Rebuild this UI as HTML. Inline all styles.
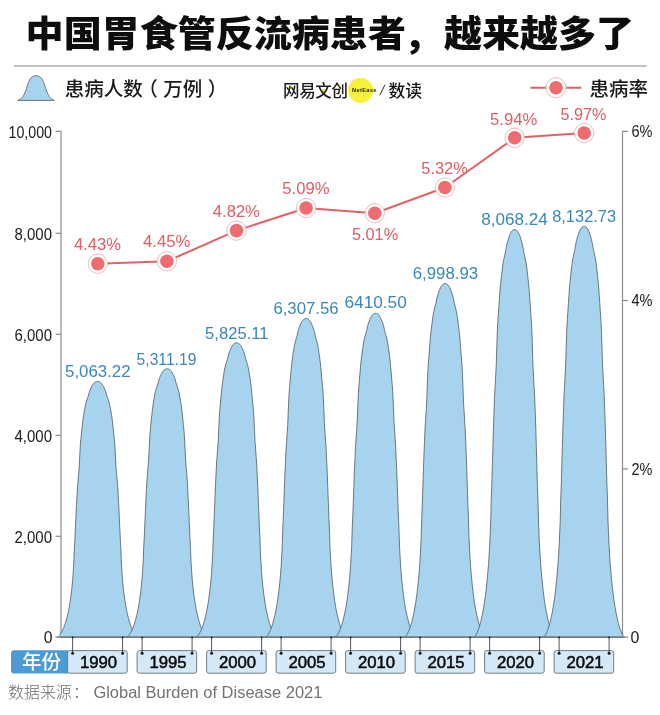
<!DOCTYPE html>
<html lang="zh-CN"><head><meta charset="utf-8"><title>中国胃食管反流病患者，越来越多了</title>
<style>
html,body{margin:0;padding:0;background:#fff;}
body{width:660px;height:715px;overflow:hidden;}
svg{display:block;}
text{font-family:"Liberation Sans","Noto Sans CJK SC",sans-serif;}
.cjk{font-family:"Noto Sans CJK SC","Liberation Sans",sans-serif;}
.red{fill:#df5d63;}
.blue{fill:#3a87b9;}
.ax{fill:#1a1a1a;}
</style></head><body>
<svg width="660" height="715" viewBox="0 0 660 715">
<defs><clipPath id="plot"><rect x="0" y="0" width="660" height="637.4"/></clipPath></defs>
<rect width="660" height="715" fill="#fff"/>

<text class="cjk" transform="translate(25.6,47.3) scale(1.048,1)" font-size="36.3" font-weight="900" fill="#0d0d0d">中国胃食管反流病患者<tspan dx="-2.4" dy="2">，</tspan><tspan dx="2.4" dy="-2">越来越多了</tspan></text>
<rect x="14" y="65.3" width="632.5" height="1.4" fill="#a9a9a9"/>
<path d="M17.8,100.4 L18.1,100.3 L18.4,100.1 L18.7,99.9 L19.0,99.8 L19.4,99.6 L19.7,99.4 L20.0,99.3 L20.3,99.1 L20.6,98.9 L20.9,98.6 L21.2,98.4 L21.5,98.1 L21.8,97.8 L22.1,97.5 L22.5,97.1 L22.8,96.7 L23.1,96.3 L23.4,95.8 L23.7,95.3 L24.0,94.7 L24.3,94.0 L24.6,93.3 L24.9,92.6 L25.2,91.8 L25.6,91.0 L25.9,90.1 L26.2,89.2 L26.5,88.3 L26.8,87.3 L27.1,86.4 L27.4,85.4 L27.7,84.5 L28.0,83.6 L28.3,82.7 L28.7,81.9 L29.0,81.2 L29.3,80.5 L29.6,79.8 L29.9,79.3 L30.2,78.8 L30.5,78.4 L30.8,78.0 L31.1,77.7 L31.4,77.4 L31.8,77.2 L32.1,76.9 L32.4,76.7 L32.7,76.6 L33.0,76.4 L33.3,76.3 L33.6,76.2 L33.9,76.0 L34.2,75.9 L34.5,75.9 L34.9,75.8 L35.2,75.8 L35.5,75.7 L35.8,75.7 L36.1,75.7 L36.4,75.7 L36.7,75.7 L37.0,75.8 L37.3,75.8 L37.7,75.9 L38.0,75.9 L38.3,76.0 L38.6,76.2 L38.9,76.3 L39.2,76.4 L39.5,76.6 L39.8,76.7 L40.1,76.9 L40.4,77.2 L40.8,77.4 L41.1,77.7 L41.4,78.0 L41.7,78.4 L42.0,78.8 L42.3,79.3 L42.6,79.8 L42.9,80.5 L43.2,81.2 L43.5,81.9 L43.9,82.7 L44.2,83.6 L44.5,84.5 L44.8,85.4 L45.1,86.4 L45.4,87.3 L45.7,88.3 L46.0,89.2 L46.3,90.1 L46.6,91.0 L47.0,91.8 L47.3,92.6 L47.6,93.3 L47.9,94.0 L48.2,94.7 L48.5,95.3 L48.8,95.8 L49.1,96.3 L49.4,96.7 L49.7,97.1 L50.1,97.5 L50.4,97.8 L50.7,98.1 L51.0,98.4 L51.3,98.6 L51.6,98.9 L51.9,99.1 L52.2,99.3 L52.5,99.4 L52.8,99.6 L53.2,99.8 L53.5,99.9 L53.8,100.1 L54.1,100.3 L54.4,100.4Z" fill="#a8d3ee" stroke="#4a5660" stroke-width="0.8" stroke-linejoin="round"/>
<text class="cjk" x="64.7" y="96" font-size="19.5" font-weight="500" fill="#1a1a1a">患病人数<tspan dx="-4.5">（</tspan><tspan dx="5.5">万例</tspan><tspan dx="5.5">）</tspan></text>
<circle cx="360.6" cy="90.3" r="12.5" fill="#f6f13a"/>
<g fill="#e9df3a"><ellipse cx="289.3" cy="88.3" rx="1.2" ry="2"/><ellipse cx="293.6" cy="88.3" rx="1.2" ry="2"/><circle cx="323.8" cy="91.2" r="2.1"/><circle cx="337.6" cy="84.3" r="1.4"/></g>
<text class="cjk" x="283" y="97" font-size="16.5" font-weight="500" fill="#1c1c1c" textLength="65" lengthAdjust="spacing">网易文创</text>
<text x="352" y="92.4" font-size="5.7" font-weight="700" fill="#222" textLength="24.4" lengthAdjust="spacing">NetEase</text>
<text transform="translate(379.2,95.2) skewX(-13)" font-size="14.2" fill="#4a4a4a">/</text>
<text class="cjk" x="388.5" y="97" font-size="16.8" font-weight="500" fill="#151515" textLength="33.5" lengthAdjust="spacing">数读</text>
<line x1="530.4" y1="87.7" x2="581.3" y2="87.7" stroke="#e16166" stroke-width="1.9"/>
<circle cx="556" cy="87.6" r="10" fill="#fff" stroke="#efa9aa" stroke-width="0.8"/><circle cx="556" cy="87.7" r="6.8" fill="#ee6c6f"/>
<text class="cjk" x="589.5" y="96" font-size="19.5" font-weight="500" fill="#1a1a1a" textLength="58.5" lengthAdjust="spacing">患病率</text>
<g stroke="#8c8c8c" stroke-width="1.2" fill="none">
<path d="M55.5,131.3 H61 V637.2"/>
<path d="M55.5,233.3 H61"/>
<path d="M55.5,334.3 H61"/>
<path d="M55.5,435.3 H61"/>
<path d="M55.5,536.3 H61"/>
<path d="M628,131.3 H622.5 V637.2"/>
<path d="M622.5,300.5 H628"/>
<path d="M622.5,468.9 H628"/>
</g>
<g clip-path="url(#plot)" fill="#a8d3ee" stroke="#44525c" stroke-width="0.75" stroke-linejoin="round">
<path d="M56.6,637.5 L57.2,637.2 L57.7,636.9 L58.3,636.5 L58.8,636.0 L59.4,635.4 L59.9,634.7 L60.5,634.0 L61.0,633.1 L61.6,632.2 L62.1,631.2 L62.7,630.1 L63.2,628.9 L63.8,627.5 L64.3,626.0 L64.9,624.4 L65.4,622.8 L66.0,621.0 L66.5,619.0 L67.1,617.0 L67.6,614.7 L68.2,612.3 L68.7,609.6 L69.3,606.6 L69.8,603.4 L70.4,599.9 L70.9,596.0 L71.5,591.7 L72.0,586.7 L72.6,580.7 L73.1,573.7 L73.7,565.0 L74.2,551.8 L74.8,541.4 L75.3,530.0 L75.9,517.6 L76.4,506.2 L77.0,495.6 L77.5,486.7 L78.1,480.0 L78.6,473.9 L79.2,467.1 L79.7,456.9 L80.3,445.5 L80.8,439.5 L81.4,434.3 L81.9,429.3 L82.5,424.0 L83.0,419.3 L83.6,415.4 L84.2,411.9 L84.8,408.6 L85.3,405.5 L85.9,403.0 L86.5,400.9 L87.1,399.1 L87.7,397.5 L88.3,395.8 L88.8,394.0 L89.4,391.9 L90.0,390.2 L90.6,388.8 L91.2,387.5 L91.8,386.4 L92.3,385.3 L92.9,384.4 L93.5,383.6 L94.1,382.9 L94.7,382.4 L95.3,382.0 L95.8,381.7 L96.4,381.5 L97.0,381.4 L97.6,381.3 L98.2,381.4 L98.8,381.5 L99.3,381.7 L99.9,382.0 L100.5,382.4 L101.1,382.9 L101.7,383.6 L102.3,384.4 L102.8,385.3 L103.4,386.4 L104.0,387.5 L104.6,388.8 L105.2,390.2 L105.8,391.9 L106.3,394.0 L106.9,395.8 L107.5,397.5 L108.1,399.1 L108.7,400.9 L109.3,403.0 L109.8,405.5 L110.4,408.6 L111.0,411.9 L111.6,415.4 L112.2,419.3 L112.7,424.0 L113.3,429.3 L113.8,434.3 L114.4,439.5 L114.9,445.5 L115.5,456.9 L116.0,467.1 L116.6,473.9 L117.1,480.0 L117.7,486.7 L118.2,495.6 L118.8,506.2 L119.3,517.6 L119.9,530.0 L120.4,541.4 L121.0,551.8 L121.5,565.0 L122.1,573.7 L122.6,580.7 L123.2,586.7 L123.7,591.7 L124.3,596.0 L124.8,599.9 L125.4,603.4 L125.9,606.6 L126.5,609.6 L127.0,612.3 L127.6,614.7 L128.1,617.0 L128.7,619.0 L129.2,621.0 L129.8,622.8 L130.3,624.4 L130.9,626.0 L131.4,627.5 L132.0,628.9 L132.5,630.1 L133.1,631.2 L133.6,632.2 L134.2,633.1 L134.7,634.0 L135.3,634.7 L135.8,635.4 L136.4,636.0 L136.9,636.5 L137.5,636.9 L138.0,637.2 L138.6,637.5Z"/>
<path d="M126.1,637.5 L126.7,637.2 L127.2,636.9 L127.8,636.4 L128.3,635.9 L128.9,635.3 L129.4,634.6 L130.0,633.8 L130.5,632.9 L131.1,631.9 L131.6,630.9 L132.2,629.7 L132.7,628.4 L133.3,627.0 L133.8,625.4 L134.4,623.8 L134.9,622.0 L135.5,620.2 L136.0,618.1 L136.6,616.0 L137.1,613.6 L137.7,611.1 L138.2,608.3 L138.8,605.1 L139.3,601.7 L139.9,598.0 L140.4,594.0 L141.0,589.5 L141.5,584.3 L142.1,577.9 L142.6,570.6 L143.2,561.4 L143.7,547.7 L144.3,536.7 L144.8,524.8 L145.4,511.7 L145.9,499.8 L146.5,488.7 L147.0,479.4 L147.6,472.3 L148.1,466.0 L148.7,458.8 L149.2,448.1 L149.8,436.1 L150.3,429.8 L150.9,424.4 L151.4,419.1 L152.0,413.5 L152.5,408.6 L153.1,404.6 L153.7,400.9 L154.3,397.4 L154.8,394.2 L155.4,391.5 L156.0,389.3 L156.6,387.5 L157.2,385.8 L157.8,384.0 L158.3,382.1 L158.9,379.9 L159.5,378.1 L160.1,376.6 L160.7,375.3 L161.3,374.1 L161.8,373.0 L162.4,372.0 L163.0,371.2 L163.6,370.5 L164.2,369.9 L164.8,369.5 L165.3,369.2 L165.9,369.0 L166.5,368.8 L167.1,368.8 L167.7,368.8 L168.3,369.0 L168.8,369.2 L169.4,369.5 L170.0,369.9 L170.6,370.5 L171.2,371.2 L171.8,372.0 L172.3,373.0 L172.9,374.1 L173.5,375.3 L174.1,376.6 L174.7,378.1 L175.3,379.9 L175.8,382.1 L176.4,384.0 L177.0,385.8 L177.6,387.5 L178.2,389.3 L178.8,391.5 L179.3,394.2 L179.9,397.4 L180.5,400.9 L181.1,404.6 L181.7,408.6 L182.2,413.5 L182.8,419.1 L183.3,424.4 L183.9,429.8 L184.4,436.1 L185.0,448.1 L185.5,458.8 L186.1,466.0 L186.6,472.3 L187.2,479.4 L187.7,488.7 L188.3,499.8 L188.8,511.7 L189.4,524.8 L189.9,536.7 L190.5,547.7 L191.0,561.4 L191.6,570.6 L192.1,577.9 L192.7,584.3 L193.2,589.5 L193.8,594.0 L194.3,598.0 L194.9,601.7 L195.4,605.1 L196.0,608.3 L196.5,611.1 L197.1,613.6 L197.6,616.0 L198.2,618.1 L198.7,620.2 L199.3,622.0 L199.8,623.8 L200.4,625.4 L200.9,627.0 L201.5,628.4 L202.0,629.7 L202.6,630.9 L203.1,631.9 L203.7,632.9 L204.2,633.8 L204.8,634.6 L205.3,635.3 L205.9,635.9 L206.4,636.4 L207.0,636.9 L207.5,637.2 L208.1,637.5Z"/>
<path d="M195.6,637.5 L196.2,637.2 L196.7,636.8 L197.3,636.3 L197.8,635.8 L198.4,635.1 L198.9,634.3 L199.5,633.4 L200.0,632.4 L200.6,631.4 L201.1,630.2 L201.7,629.0 L202.2,627.6 L202.8,626.0 L203.3,624.3 L203.9,622.5 L204.4,620.6 L205.0,618.5 L205.5,616.3 L206.1,613.9 L206.6,611.3 L207.2,608.6 L207.7,605.5 L208.3,602.0 L208.8,598.3 L209.4,594.2 L209.9,589.8 L210.5,584.9 L211.0,579.1 L211.6,572.2 L212.1,564.1 L212.7,554.1 L213.2,539.0 L213.8,527.0 L214.3,513.9 L214.9,499.6 L215.4,486.5 L216.0,474.3 L216.5,464.1 L217.1,456.3 L217.6,449.4 L218.2,441.5 L218.7,429.8 L219.3,416.6 L219.8,409.7 L220.4,403.8 L220.9,398.0 L221.5,391.9 L222.0,386.5 L222.6,382.1 L223.2,378.0 L223.8,374.2 L224.3,370.7 L224.9,367.7 L225.5,365.4 L226.1,363.3 L226.7,361.5 L227.3,359.5 L227.8,357.4 L228.4,355.0 L229.0,353.1 L229.6,351.4 L230.2,350.0 L230.8,348.7 L231.3,347.4 L231.9,346.4 L232.5,345.5 L233.1,344.7 L233.7,344.1 L234.3,343.6 L234.8,343.2 L235.4,343.0 L236.0,342.9 L236.6,342.8 L237.2,342.9 L237.8,343.0 L238.3,343.2 L238.9,343.6 L239.5,344.1 L240.1,344.7 L240.7,345.5 L241.3,346.4 L241.8,347.4 L242.4,348.7 L243.0,350.0 L243.6,351.4 L244.2,353.1 L244.8,355.0 L245.3,357.4 L245.9,359.5 L246.5,361.5 L247.1,363.3 L247.7,365.4 L248.3,367.7 L248.8,370.7 L249.4,374.2 L250.0,378.0 L250.6,382.1 L251.2,386.5 L251.7,391.9 L252.3,398.0 L252.8,403.8 L253.4,409.7 L253.9,416.6 L254.5,429.8 L255.0,441.5 L255.6,449.4 L256.1,456.3 L256.7,464.1 L257.2,474.3 L257.8,486.5 L258.3,499.6 L258.9,513.9 L259.4,527.0 L260.0,539.0 L260.5,554.1 L261.1,564.1 L261.6,572.2 L262.2,579.1 L262.7,584.9 L263.3,589.8 L263.8,594.2 L264.4,598.3 L264.9,602.0 L265.5,605.5 L266.0,608.6 L266.6,611.3 L267.1,613.9 L267.7,616.3 L268.2,618.5 L268.8,620.6 L269.3,622.5 L269.9,624.3 L270.4,626.0 L271.0,627.6 L271.5,629.0 L272.1,630.2 L272.6,631.4 L273.2,632.4 L273.7,633.4 L274.3,634.3 L274.8,635.1 L275.4,635.8 L275.9,636.3 L276.5,636.8 L277.0,637.2 L277.6,637.5Z"/>
<path d="M265.1,637.5 L265.7,637.2 L266.2,636.8 L266.8,636.2 L267.3,635.7 L267.9,634.9 L268.4,634.1 L269.0,633.1 L269.5,632.0 L270.1,630.9 L270.6,629.6 L271.2,628.3 L271.7,626.7 L272.3,625.0 L272.8,623.2 L273.4,621.2 L273.9,619.1 L274.5,616.9 L275.0,614.5 L275.6,611.9 L276.1,609.2 L276.7,606.2 L277.2,602.8 L277.8,599.1 L278.3,595.0 L278.9,590.6 L279.4,585.9 L280.0,580.5 L280.5,574.3 L281.1,566.8 L281.6,558.0 L282.2,547.2 L282.7,530.8 L283.3,517.9 L283.8,503.7 L284.4,488.2 L284.9,474.0 L285.5,460.8 L286.0,449.8 L286.6,441.3 L287.1,433.8 L287.7,425.3 L288.2,412.7 L288.8,398.4 L289.3,390.9 L289.9,384.4 L290.4,378.2 L291.0,371.6 L291.5,365.7 L292.1,361.0 L292.7,356.6 L293.3,352.4 L293.9,348.6 L294.4,345.4 L295.0,342.9 L295.6,340.7 L296.2,338.6 L296.8,336.6 L297.4,334.2 L297.9,331.7 L298.5,329.6 L299.1,327.8 L299.7,326.2 L300.3,324.8 L300.9,323.5 L301.4,322.3 L302.0,321.4 L302.6,320.5 L303.2,319.8 L303.8,319.3 L304.4,318.9 L304.9,318.7 L305.5,318.5 L306.1,318.5 L306.7,318.5 L307.3,318.7 L307.9,318.9 L308.4,319.3 L309.0,319.8 L309.6,320.5 L310.2,321.4 L310.8,322.3 L311.4,323.5 L311.9,324.8 L312.5,326.2 L313.1,327.8 L313.7,329.6 L314.3,331.7 L314.9,334.2 L315.4,336.6 L316.0,338.6 L316.6,340.7 L317.2,342.9 L317.8,345.4 L318.4,348.6 L318.9,352.4 L319.5,356.6 L320.1,361.0 L320.7,365.7 L321.2,371.6 L321.8,378.2 L322.3,384.4 L322.9,390.9 L323.4,398.4 L324.0,412.7 L324.5,425.3 L325.1,433.8 L325.6,441.3 L326.2,449.8 L326.7,460.8 L327.3,474.0 L327.8,488.2 L328.4,503.7 L328.9,517.9 L329.5,530.8 L330.0,547.2 L330.6,558.0 L331.1,566.8 L331.7,574.3 L332.2,580.5 L332.8,585.9 L333.3,590.6 L333.9,595.0 L334.4,599.1 L335.0,602.8 L335.5,606.2 L336.1,609.2 L336.6,611.9 L337.2,614.5 L337.7,616.9 L338.3,619.1 L338.8,621.2 L339.4,623.2 L339.9,625.0 L340.5,626.7 L341.0,628.3 L341.6,629.6 L342.1,630.9 L342.7,632.0 L343.2,633.1 L343.8,634.1 L344.3,634.9 L344.9,635.7 L345.4,636.2 L346.0,636.8 L346.5,637.2 L347.1,637.5Z"/>
<path d="M334.6,637.5 L335.2,637.2 L335.7,636.7 L336.3,636.2 L336.8,635.6 L337.4,634.9 L337.9,634.0 L338.5,633.0 L339.0,631.9 L339.6,630.7 L340.1,629.5 L340.7,628.1 L341.2,626.6 L341.8,624.8 L342.3,623.0 L342.9,621.0 L343.4,618.9 L344.0,616.6 L344.5,614.1 L345.1,611.5 L345.6,608.7 L346.2,605.7 L346.7,602.3 L347.3,598.5 L347.8,594.3 L348.4,589.9 L348.9,585.0 L349.5,579.6 L350.0,573.3 L350.6,565.6 L351.1,556.7 L351.7,545.7 L352.2,529.1 L352.8,515.9 L353.3,501.5 L353.9,485.7 L354.4,471.4 L355.0,458.0 L355.5,446.7 L356.1,438.1 L356.6,430.5 L357.2,421.8 L357.7,409.0 L358.3,394.5 L358.8,386.9 L359.4,380.3 L359.9,374.0 L360.5,367.3 L361.0,361.3 L361.6,356.5 L362.2,352.0 L362.8,347.8 L363.4,343.9 L363.9,340.7 L364.5,338.1 L365.1,335.8 L365.7,333.8 L366.3,331.7 L366.9,329.3 L367.4,326.7 L368.0,324.6 L368.6,322.7 L369.2,321.1 L369.8,319.7 L370.4,318.3 L370.9,317.2 L371.5,316.2 L372.1,315.3 L372.7,314.6 L373.3,314.1 L373.9,313.7 L374.4,313.5 L375.0,313.3 L375.6,313.3 L376.2,313.3 L376.8,313.5 L377.4,313.7 L377.9,314.1 L378.5,314.6 L379.1,315.3 L379.7,316.2 L380.3,317.2 L380.9,318.3 L381.4,319.7 L382.0,321.1 L382.6,322.7 L383.2,324.6 L383.8,326.7 L384.4,329.3 L384.9,331.7 L385.5,333.8 L386.1,335.8 L386.7,338.1 L387.3,340.7 L387.9,343.9 L388.4,347.8 L389.0,352.0 L389.6,356.5 L390.2,361.3 L390.7,367.3 L391.3,374.0 L391.8,380.3 L392.4,386.9 L392.9,394.5 L393.5,409.0 L394.0,421.8 L394.6,430.5 L395.1,438.1 L395.7,446.7 L396.2,458.0 L396.8,471.4 L397.3,485.7 L397.9,501.5 L398.4,515.9 L399.0,529.1 L399.5,545.7 L400.1,556.7 L400.6,565.6 L401.2,573.3 L401.7,579.6 L402.3,585.0 L402.8,589.9 L403.4,594.3 L403.9,598.5 L404.5,602.3 L405.0,605.7 L405.6,608.7 L406.1,611.5 L406.7,614.1 L407.2,616.6 L407.8,618.9 L408.3,621.0 L408.9,623.0 L409.4,624.8 L410.0,626.6 L410.5,628.1 L411.1,629.5 L411.6,630.7 L412.2,631.9 L412.7,633.0 L413.3,634.0 L413.8,634.9 L414.4,635.6 L414.9,636.2 L415.5,636.7 L416.0,637.2 L416.6,637.5Z"/>
<path d="M404.1,637.5 L404.7,637.2 L405.2,636.7 L405.8,636.1 L406.3,635.4 L406.9,634.6 L407.4,633.7 L408.0,632.6 L408.5,631.4 L409.1,630.1 L409.6,628.8 L410.2,627.3 L410.7,625.6 L411.3,623.7 L411.8,621.6 L412.4,619.5 L412.9,617.1 L413.5,614.7 L414.0,612.0 L414.6,609.1 L415.1,606.1 L415.7,602.7 L416.2,599.0 L416.8,594.9 L417.3,590.4 L417.9,585.5 L418.4,580.2 L419.0,574.3 L419.5,567.4 L420.1,559.0 L420.6,549.3 L421.2,537.3 L421.7,519.2 L422.3,504.8 L422.8,489.0 L423.4,471.8 L423.9,456.2 L424.5,441.5 L425.0,429.2 L425.6,419.9 L426.1,411.5 L426.7,402.1 L427.2,388.0 L427.8,372.2 L428.3,363.9 L428.9,356.7 L429.4,349.8 L430.0,342.5 L430.5,336.0 L431.1,330.7 L431.7,325.8 L432.3,321.2 L432.9,317.0 L433.4,313.5 L434.0,310.6 L434.6,308.2 L435.2,305.9 L435.8,303.6 L436.4,301.0 L436.9,298.2 L437.5,295.9 L438.1,293.9 L438.7,292.1 L439.3,290.5 L439.9,289.1 L440.4,287.8 L441.0,286.8 L441.6,285.8 L442.2,285.1 L442.8,284.5 L443.4,284.0 L443.9,283.8 L444.5,283.6 L445.1,283.6 L445.7,283.6 L446.3,283.8 L446.9,284.0 L447.4,284.5 L448.0,285.1 L448.6,285.8 L449.2,286.8 L449.8,287.8 L450.4,289.1 L450.9,290.5 L451.5,292.1 L452.1,293.9 L452.7,295.9 L453.3,298.2 L453.9,301.0 L454.4,303.6 L455.0,305.9 L455.6,308.2 L456.2,310.6 L456.8,313.5 L457.4,317.0 L457.9,321.2 L458.5,325.8 L459.1,330.7 L459.7,336.0 L460.2,342.5 L460.8,349.8 L461.3,356.7 L461.9,363.9 L462.4,372.2 L463.0,388.0 L463.5,402.1 L464.1,411.5 L464.6,419.9 L465.2,429.2 L465.7,441.5 L466.3,456.2 L466.8,471.8 L467.4,489.0 L467.9,504.8 L468.5,519.2 L469.0,537.3 L469.6,549.3 L470.1,559.0 L470.7,567.4 L471.2,574.3 L471.8,580.2 L472.3,585.5 L472.9,590.4 L473.4,594.9 L474.0,599.0 L474.5,602.7 L475.1,606.1 L475.6,609.1 L476.2,612.0 L476.7,614.7 L477.3,617.1 L477.8,619.5 L478.4,621.6 L478.9,623.7 L479.5,625.6 L480.0,627.3 L480.6,628.8 L481.1,630.1 L481.7,631.4 L482.2,632.6 L482.8,633.7 L483.3,634.6 L483.9,635.4 L484.4,636.1 L485.0,636.7 L485.5,637.2 L486.1,637.5Z"/>
<path d="M473.6,637.5 L474.2,637.1 L474.7,636.6 L475.3,635.9 L475.8,635.1 L476.4,634.2 L476.9,633.1 L477.5,631.9 L478.0,630.5 L478.6,629.0 L479.1,627.4 L479.7,625.7 L480.2,623.7 L480.8,621.6 L481.3,619.2 L481.9,616.7 L482.4,614.0 L483.0,611.2 L483.5,608.1 L484.1,604.8 L484.6,601.3 L485.2,597.4 L485.7,593.1 L486.3,588.4 L486.8,583.2 L487.4,577.6 L487.9,571.5 L488.5,564.6 L489.0,556.7 L489.6,547.1 L490.1,535.9 L490.7,522.0 L491.2,501.1 L491.8,484.5 L492.3,466.4 L492.9,446.5 L493.4,428.5 L494.0,411.6 L494.5,397.4 L495.1,386.7 L495.6,377.1 L496.2,366.2 L496.7,350.0 L497.3,331.7 L497.8,322.2 L498.4,313.9 L498.9,305.9 L499.5,297.5 L500.0,290.0 L500.6,283.9 L501.2,278.3 L501.8,273.0 L502.4,268.1 L502.9,264.0 L503.5,260.8 L504.1,258.0 L504.7,255.3 L505.3,252.7 L505.9,249.7 L506.4,246.5 L507.0,243.8 L507.6,241.5 L508.2,239.5 L508.8,237.6 L509.4,235.9 L509.9,234.5 L510.5,233.3 L511.1,232.2 L511.7,231.3 L512.3,230.6 L512.9,230.1 L513.4,229.8 L514.0,229.6 L514.6,229.6 L515.2,229.6 L515.8,229.8 L516.4,230.1 L516.9,230.6 L517.5,231.3 L518.1,232.2 L518.7,233.3 L519.3,234.5 L519.9,235.9 L520.4,237.6 L521.0,239.5 L521.6,241.5 L522.2,243.8 L522.8,246.5 L523.4,249.7 L523.9,252.7 L524.5,255.3 L525.1,258.0 L525.7,260.8 L526.3,264.0 L526.9,268.1 L527.4,273.0 L528.0,278.3 L528.6,283.9 L529.2,290.0 L529.7,297.5 L530.3,305.9 L530.8,313.9 L531.4,322.2 L531.9,331.7 L532.5,350.0 L533.0,366.2 L533.6,377.1 L534.1,386.7 L534.7,397.4 L535.2,411.6 L535.8,428.5 L536.3,446.5 L536.9,466.4 L537.4,484.5 L538.0,501.1 L538.5,522.0 L539.1,535.9 L539.6,547.1 L540.2,556.7 L540.7,564.6 L541.3,571.5 L541.8,577.6 L542.4,583.2 L542.9,588.4 L543.5,593.1 L544.0,597.4 L544.6,601.3 L545.1,604.8 L545.7,608.1 L546.2,611.2 L546.8,614.0 L547.3,616.7 L547.9,619.2 L548.4,621.6 L549.0,623.7 L549.5,625.7 L550.1,627.4 L550.6,629.0 L551.2,630.5 L551.7,631.9 L552.3,633.1 L552.8,634.2 L553.4,635.1 L553.9,635.9 L554.5,636.6 L555.0,637.1 L555.6,637.5Z"/>
<path d="M543.1,637.5 L543.7,637.1 L544.2,636.5 L544.8,635.9 L545.3,635.1 L545.9,634.2 L546.4,633.1 L547.0,631.8 L547.5,630.4 L548.1,628.9 L548.6,627.4 L549.2,625.6 L549.7,623.6 L550.3,621.4 L550.8,619.1 L551.4,616.5 L551.9,613.8 L552.5,611.0 L553.0,607.9 L553.6,604.5 L554.1,601.0 L554.7,597.1 L555.2,592.8 L555.8,588.0 L556.3,582.7 L556.9,577.1 L557.4,571.0 L558.0,564.0 L558.5,556.0 L559.1,546.3 L559.6,535.1 L560.2,521.1 L560.7,500.0 L561.3,483.3 L561.8,465.0 L562.4,445.0 L562.9,426.8 L563.5,409.8 L564.0,395.5 L564.6,384.7 L565.1,375.0 L565.7,364.0 L566.2,347.7 L566.8,329.3 L567.3,319.7 L567.9,311.3 L568.4,303.3 L569.0,294.8 L569.5,287.2 L570.1,281.1 L570.7,275.4 L571.3,270.1 L571.9,265.2 L572.4,261.1 L573.0,257.8 L573.6,254.9 L574.2,252.3 L574.8,249.6 L575.4,246.6 L575.9,243.3 L576.5,240.6 L577.1,238.3 L577.7,236.3 L578.3,234.4 L578.9,232.7 L579.4,231.3 L580.0,230.0 L580.6,228.9 L581.2,228.0 L581.8,227.4 L582.4,226.9 L582.9,226.6 L583.5,226.4 L584.1,226.3 L584.7,226.4 L585.3,226.6 L585.9,226.9 L586.4,227.4 L587.0,228.0 L587.6,228.9 L588.2,230.0 L588.8,231.3 L589.4,232.7 L589.9,234.4 L590.5,236.3 L591.1,238.3 L591.7,240.6 L592.3,243.3 L592.9,246.6 L593.4,249.6 L594.0,252.3 L594.6,254.9 L595.2,257.8 L595.8,261.1 L596.4,265.2 L596.9,270.1 L597.5,275.4 L598.1,281.1 L598.7,287.2 L599.2,294.8 L599.8,303.3 L600.3,311.3 L600.9,319.7 L601.4,329.3 L602.0,347.7 L602.5,364.0 L603.1,375.0 L603.6,384.7 L604.2,395.5 L604.7,409.8 L605.3,426.8 L605.8,445.0 L606.4,465.0 L606.9,483.3 L607.5,500.0 L608.0,521.1 L608.6,535.1 L609.1,546.3 L609.7,556.0 L610.2,564.0 L610.8,571.0 L611.3,577.1 L611.9,582.7 L612.4,588.0 L613.0,592.8 L613.5,597.1 L614.1,601.0 L614.6,604.5 L615.2,607.9 L615.7,611.0 L616.3,613.8 L616.8,616.5 L617.4,619.1 L617.9,621.4 L618.5,623.6 L619.0,625.6 L619.6,627.4 L620.1,628.9 L620.7,630.4 L621.2,631.8 L621.8,633.1 L622.3,634.2 L622.9,635.1 L623.4,635.9 L624.0,636.5 L624.5,637.1 L625.1,637.5Z"/>
</g>
<path d="M55.5,637.2 H628.2" stroke="#8c8c8c" stroke-width="1.2"/><path d="M60,637.2 H623" stroke="#6a7177" stroke-width="1.2"/>
<text class="ax" x="52" y="137.8" font-size="15.6" text-anchor="end" textLength="43.5" lengthAdjust="spacingAndGlyphs">10,000</text>
<text class="ax" x="52" y="239.5" font-size="15.6" text-anchor="end" textLength="37.5" lengthAdjust="spacingAndGlyphs">8,000</text>
<text class="ax" x="52" y="340.5" font-size="15.6" text-anchor="end" textLength="37.5" lengthAdjust="spacingAndGlyphs">6,000</text>
<text class="ax" x="52" y="441.5" font-size="15.6" text-anchor="end" textLength="37.5" lengthAdjust="spacingAndGlyphs">4,000</text>
<text class="ax" x="52" y="542.5" font-size="15.6" text-anchor="end" textLength="37.5" lengthAdjust="spacingAndGlyphs">2,000</text>
<text class="ax" x="52.6" y="643" font-size="15.8" text-anchor="end">0</text>
<text class="ax" x="631.5" y="137.3" font-size="16.5" textLength="21" lengthAdjust="spacingAndGlyphs">6%</text>
<text class="ax" x="631.5" y="306.2" font-size="16.5" textLength="21" lengthAdjust="spacingAndGlyphs">4%</text>
<text class="ax" x="631.5" y="474.6" font-size="16.5" textLength="21" lengthAdjust="spacingAndGlyphs">2%</text>
<text class="ax" x="630.4" y="642.6" font-size="15.8">0</text>
<text class="blue" x="65.1" y="377.2" font-size="16.3" textLength="65.5" lengthAdjust="spacingAndGlyphs">5,063.22</text>
<text class="blue" x="136.6" y="364.5" font-size="16.3" textLength="59.8" lengthAdjust="spacingAndGlyphs">5,311.19</text>
<text class="blue" x="205.1" y="338.6" font-size="16.3" textLength="63.4" lengthAdjust="spacingAndGlyphs">5,825.11</text>
<text class="blue" x="273.4" y="314.2" font-size="16.3" textLength="65.1" lengthAdjust="spacingAndGlyphs">6,307.56</text>
<text class="blue" x="344.5" y="308.4" font-size="16.3" textLength="62.3" lengthAdjust="spacingAndGlyphs">6410.50</text>
<text class="blue" x="412.8" y="279.2" font-size="16.3" textLength="65.3" lengthAdjust="spacingAndGlyphs">6,998.93</text>
<text class="blue" x="481.3" y="224.7" font-size="16.3" textLength="66.6" lengthAdjust="spacingAndGlyphs">8,068.24</text>
<text class="blue" x="552.2" y="222.0" font-size="16.3" textLength="63.9" lengthAdjust="spacingAndGlyphs">8,132.73</text>
<polyline points="97.8,263.7 166.9,261.3 236.5,230.6 306.1,208.0 374.8,213.2 444.9,187.5 514.7,137.8 584.2,133.0" fill="none" stroke="#e16166" stroke-width="2.05" stroke-linejoin="round"/>
<circle cx="97.8" cy="263.7" r="9.7" fill="#fff" stroke="#efa9aa" stroke-width="0.8"/><circle cx="97.8" cy="263.7" r="6.8" fill="#ee6c6f"/>
<circle cx="166.9" cy="261.3" r="9.7" fill="#fff" stroke="#efa9aa" stroke-width="0.8"/><circle cx="166.9" cy="261.3" r="6.8" fill="#ee6c6f"/>
<circle cx="236.5" cy="230.6" r="9.7" fill="#fff" stroke="#efa9aa" stroke-width="0.8"/><circle cx="236.5" cy="230.6" r="6.8" fill="#ee6c6f"/>
<circle cx="306.1" cy="208.0" r="9.7" fill="#fff" stroke="#efa9aa" stroke-width="0.8"/><circle cx="306.1" cy="208.0" r="6.8" fill="#ee6c6f"/>
<circle cx="374.8" cy="213.2" r="9.7" fill="#fff" stroke="#efa9aa" stroke-width="0.8"/><circle cx="374.8" cy="213.2" r="6.8" fill="#ee6c6f"/>
<circle cx="444.9" cy="187.5" r="9.7" fill="#fff" stroke="#efa9aa" stroke-width="0.8"/><circle cx="444.9" cy="187.5" r="6.8" fill="#ee6c6f"/>
<circle cx="514.7" cy="137.8" r="9.7" fill="#fff" stroke="#efa9aa" stroke-width="0.8"/><circle cx="514.7" cy="137.8" r="6.8" fill="#ee6c6f"/>
<circle cx="584.2" cy="133.0" r="9.7" fill="#fff" stroke="#efa9aa" stroke-width="0.8"/><circle cx="584.2" cy="133.0" r="6.8" fill="#ee6c6f"/>
<text class="red" x="74.0" y="250.3" font-size="16.9" textLength="47.0" lengthAdjust="spacingAndGlyphs">4.43%</text>
<text class="red" x="143.0" y="246.7" font-size="16.9" textLength="47.3" lengthAdjust="spacingAndGlyphs">4.45%</text>
<text class="red" x="212.8" y="217.1" font-size="16.9" textLength="47.1" lengthAdjust="spacingAndGlyphs">4.82%</text>
<text class="red" x="282.3" y="193.8" font-size="16.9" textLength="47.2" lengthAdjust="spacingAndGlyphs">5.09%</text>
<text class="red" x="351.9" y="239.5" font-size="16.9" textLength="46.3" lengthAdjust="spacingAndGlyphs">5.01%</text>
<text class="red" x="421.3" y="173.8" font-size="16.9" textLength="46.5" lengthAdjust="spacingAndGlyphs">5.32%</text>
<text class="red" x="490.0" y="125.0" font-size="16.9" textLength="47.2" lengthAdjust="spacingAndGlyphs">5.94%</text>
<text class="red" x="560.6" y="120.0" font-size="16.9" textLength="45.9" lengthAdjust="spacingAndGlyphs">5.97%</text>
<path d="M14,650.2 H68 V673.4 H14 a3,3 0 0 1 -3,-3 V653.2 a3,3 0 0 1 3,-3Z" fill="#4c9bd3"/>
<text class="cjk" x="22" y="669.2" font-size="19.6" font-weight="500" fill="#fff">年份</text>
<rect x="67.6" y="650.6" width="59.6" height="22.6" rx="2.3" fill="#d4e8f7" stroke="#6f7d88" stroke-width="1"/>
<path d="M72.6,637.3 V653" stroke="#2b2b2b" stroke-width="0.8"/><circle cx="72.6" cy="653.2" r="1.5" fill="#1a1a1a"/><circle cx="72.6" cy="637.4" r="0.9" fill="#1a1a1a"/>
<path d="M122.6,637.3 V653" stroke="#2b2b2b" stroke-width="0.8"/><circle cx="122.6" cy="653.2" r="1.5" fill="#1a1a1a"/><circle cx="122.6" cy="637.4" r="0.9" fill="#1a1a1a"/>
<text x="98.5" y="668.1" font-size="16.4" fill="#0a0a0a" text-anchor="middle" textLength="37.2" lengthAdjust="spacingAndGlyphs" stroke="#0a0a0a" stroke-width="0.5">1990</text>
<rect x="137.1" y="650.6" width="59.6" height="22.6" rx="2.3" fill="#d4e8f7" stroke="#6f7d88" stroke-width="1"/>
<path d="M142.1,637.3 V653" stroke="#2b2b2b" stroke-width="0.8"/><circle cx="142.1" cy="653.2" r="1.5" fill="#1a1a1a"/><circle cx="142.1" cy="637.4" r="0.9" fill="#1a1a1a"/>
<path d="M192.1,637.3 V653" stroke="#2b2b2b" stroke-width="0.8"/><circle cx="192.1" cy="653.2" r="1.5" fill="#1a1a1a"/><circle cx="192.1" cy="637.4" r="0.9" fill="#1a1a1a"/>
<text x="168.0" y="668.1" font-size="16.4" fill="#0a0a0a" text-anchor="middle" textLength="37.2" lengthAdjust="spacingAndGlyphs" stroke="#0a0a0a" stroke-width="0.5">1995</text>
<rect x="206.6" y="650.6" width="59.6" height="22.6" rx="2.3" fill="#d4e8f7" stroke="#6f7d88" stroke-width="1"/>
<path d="M211.6,637.3 V653" stroke="#2b2b2b" stroke-width="0.8"/><circle cx="211.6" cy="653.2" r="1.5" fill="#1a1a1a"/><circle cx="211.6" cy="637.4" r="0.9" fill="#1a1a1a"/>
<path d="M261.6,637.3 V653" stroke="#2b2b2b" stroke-width="0.8"/><circle cx="261.6" cy="653.2" r="1.5" fill="#1a1a1a"/><circle cx="261.6" cy="637.4" r="0.9" fill="#1a1a1a"/>
<text x="237.5" y="668.1" font-size="16.4" fill="#0a0a0a" text-anchor="middle" textLength="37.2" lengthAdjust="spacingAndGlyphs" stroke="#0a0a0a" stroke-width="0.5">2000</text>
<rect x="276.1" y="650.6" width="59.6" height="22.6" rx="2.3" fill="#d4e8f7" stroke="#6f7d88" stroke-width="1"/>
<path d="M281.1,637.3 V653" stroke="#2b2b2b" stroke-width="0.8"/><circle cx="281.1" cy="653.2" r="1.5" fill="#1a1a1a"/><circle cx="281.1" cy="637.4" r="0.9" fill="#1a1a1a"/>
<path d="M331.1,637.3 V653" stroke="#2b2b2b" stroke-width="0.8"/><circle cx="331.1" cy="653.2" r="1.5" fill="#1a1a1a"/><circle cx="331.1" cy="637.4" r="0.9" fill="#1a1a1a"/>
<text x="307.0" y="668.1" font-size="16.4" fill="#0a0a0a" text-anchor="middle" textLength="37.2" lengthAdjust="spacingAndGlyphs" stroke="#0a0a0a" stroke-width="0.5">2005</text>
<rect x="345.6" y="650.6" width="59.6" height="22.6" rx="2.3" fill="#d4e8f7" stroke="#6f7d88" stroke-width="1"/>
<path d="M350.6,637.3 V653" stroke="#2b2b2b" stroke-width="0.8"/><circle cx="350.6" cy="653.2" r="1.5" fill="#1a1a1a"/><circle cx="350.6" cy="637.4" r="0.9" fill="#1a1a1a"/>
<path d="M400.6,637.3 V653" stroke="#2b2b2b" stroke-width="0.8"/><circle cx="400.6" cy="653.2" r="1.5" fill="#1a1a1a"/><circle cx="400.6" cy="637.4" r="0.9" fill="#1a1a1a"/>
<text x="376.5" y="668.1" font-size="16.4" fill="#0a0a0a" text-anchor="middle" textLength="37.2" lengthAdjust="spacingAndGlyphs" stroke="#0a0a0a" stroke-width="0.5">2010</text>
<rect x="415.1" y="650.6" width="59.6" height="22.6" rx="2.3" fill="#d4e8f7" stroke="#6f7d88" stroke-width="1"/>
<path d="M420.1,637.3 V653" stroke="#2b2b2b" stroke-width="0.8"/><circle cx="420.1" cy="653.2" r="1.5" fill="#1a1a1a"/><circle cx="420.1" cy="637.4" r="0.9" fill="#1a1a1a"/>
<path d="M470.1,637.3 V653" stroke="#2b2b2b" stroke-width="0.8"/><circle cx="470.1" cy="653.2" r="1.5" fill="#1a1a1a"/><circle cx="470.1" cy="637.4" r="0.9" fill="#1a1a1a"/>
<text x="446.0" y="668.1" font-size="16.4" fill="#0a0a0a" text-anchor="middle" textLength="37.2" lengthAdjust="spacingAndGlyphs" stroke="#0a0a0a" stroke-width="0.5">2015</text>
<rect x="484.6" y="650.6" width="59.6" height="22.6" rx="2.3" fill="#d4e8f7" stroke="#6f7d88" stroke-width="1"/>
<path d="M489.6,637.3 V653" stroke="#2b2b2b" stroke-width="0.8"/><circle cx="489.6" cy="653.2" r="1.5" fill="#1a1a1a"/><circle cx="489.6" cy="637.4" r="0.9" fill="#1a1a1a"/>
<path d="M539.6,637.3 V653" stroke="#2b2b2b" stroke-width="0.8"/><circle cx="539.6" cy="653.2" r="1.5" fill="#1a1a1a"/><circle cx="539.6" cy="637.4" r="0.9" fill="#1a1a1a"/>
<text x="515.5" y="668.1" font-size="16.4" fill="#0a0a0a" text-anchor="middle" textLength="37.2" lengthAdjust="spacingAndGlyphs" stroke="#0a0a0a" stroke-width="0.5">2020</text>
<rect x="554.1" y="650.6" width="59.6" height="22.6" rx="2.3" fill="#d4e8f7" stroke="#6f7d88" stroke-width="1"/>
<path d="M559.1,637.3 V653" stroke="#2b2b2b" stroke-width="0.8"/><circle cx="559.1" cy="653.2" r="1.5" fill="#1a1a1a"/><circle cx="559.1" cy="637.4" r="0.9" fill="#1a1a1a"/>
<path d="M609.1,637.3 V653" stroke="#2b2b2b" stroke-width="0.8"/><circle cx="609.1" cy="653.2" r="1.5" fill="#1a1a1a"/><circle cx="609.1" cy="637.4" r="0.9" fill="#1a1a1a"/>
<text x="585.0" y="668.1" font-size="16.4" fill="#0a0a0a" text-anchor="middle" textLength="37.2" lengthAdjust="spacingAndGlyphs" stroke="#0a0a0a" stroke-width="0.5">2021</text>
<text class="cjk" x="8.2" y="697.6" font-size="15.9" font-weight="300" fill="#6c6c6c">数据来源<tspan dx="1.2">：</tspan></text>
<text x="93.4" y="697.7" font-size="15.6" fill="#737373" textLength="229" lengthAdjust="spacingAndGlyphs">Global Burden of Disease 2021</text>
</svg></body></html>
